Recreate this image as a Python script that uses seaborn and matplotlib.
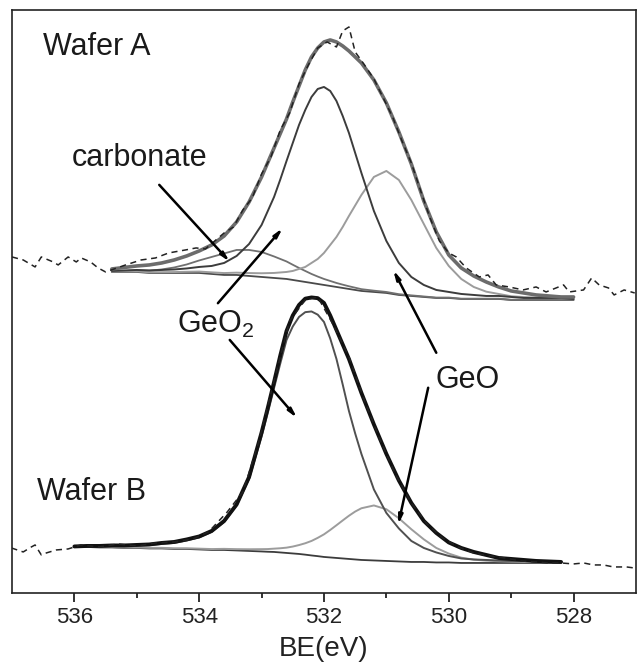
import numpy as np
import seaborn as sns
import matplotlib.pyplot as plt

# binding energy grids of the two fits (eV), finer across the peak tops
BE_A = [535.4, 535.2, 535.0, 534.8, 534.6, 534.4, 534.2, 534.0, 533.8, 533.6, 533.4, 533.2, 533.0,
        532.8, 532.7, 532.6, 532.5, 532.4, 532.3, 532.2, 532.1, 532.0, 531.9, 531.8, 531.7, 531.6,
        531.4, 531.2, 531.0, 530.8, 530.6, 530.4, 530.2, 530.0, 529.8, 529.6, 529.4, 529.2, 529.0,
        528.8, 528.6, 528.4, 528.2, 528.0]
BE_B = [536.0, 535.8, 535.6, 535.4, 535.2, 535.0, 534.8, 534.6, 534.4, 534.2, 534.0, 533.8, 533.6,
        533.4, 533.2, 533.0, 532.9, 532.8, 532.7, 532.6, 532.5, 532.4, 532.3, 532.2, 532.1, 532.0,
        531.9, 531.8, 531.7, 531.6, 531.5, 531.4, 531.2, 531.0, 530.8, 530.6, 530.4, 530.2, 530.0,
        529.8, 529.6, 529.4, 529.2, 529.0, 528.8, 528.6, 528.4, 528.2]

# Wafer A: shirley background and peak heights above it (arb. units)
BASE_A = [321, 321, 321, 320, 320, 320, 320, 320, 319, 318, 318, 317, 316,
          315, 314.5, 314, 313, 312, 311, 310, 309, 308, 307, 306, 305, 304,
          302, 301, 300, 298, 297, 296, 295, 295, 294, 294, 294, 294, 293, 293, 293, 293, 293, 293]
GEO2_A = [1, 1.5, 2, 2.5, 3, 3.5, 4.5, 6, 8, 12, 19, 32, 52,
          81, 99, 118, 137, 156, 172, 186, 195, 198, 195, 186, 172, 156,
          118, 81, 52, 32, 19, 12, 8, 6, 5, 4, 3, 3, 3, 2, 2, 2, 2, 1]
GEO_A = [0.5, 0.5, 0.6, 0.7, 0.8, 0.9, 1.2, 1.4, 1.6, 1.9, 2.3, 2.9, 3.7,
         5, 6, 7, 9, 12, 15, 20, 25, 32, 41, 50, 61, 73,
         96, 115, 122, 115, 96, 73, 50, 32, 20, 12, 7.3, 5, 3.7, 2.9, 2.4, 2.1, 1.8, 1.6]
CARB_A = [0.6, 0.9, 1.6, 2.3, 3.5, 5.5, 8.5, 12.5, 17, 21.5, 25, 26, 25,
          21.5, 19.5, 17.5, 15.2, 13, 11, 9, 7.4, 6, 5, 4, 3.3, 2.7,
          1.8, 1.3, 1, 0.8, 0.6, 0.5, 0.4, 0.4, 0.3, 0.3, 0.3, 0.3, 0.2, 0.2, 0.2, 0.2, 0.2, 0.2]
ENV_A = [3, 4.5, 6, 8, 10, 13, 17, 22, 29, 39, 53, 74, 100,
         130, 145, 160, 178, 195, 212, 226, 236, 243, 246, 245, 242, 238,
         228, 212, 190, 163, 132, 96, 66, 43, 31, 23, 17, 12, 9, 7, 5, 4, 3, 3]

# Wafer A measured spectrum
RAW_A_BE = [537.0, 536.82, 536.63, 536.53, 536.34, 536.26, 536.1, 535.97, 535.89, 535.74, 535.62, 535.5,
            535.18, 534.93, 534.7, 534.49, 534.22, 534.05, 533.9, 533.75, 533.6, 533.45, 533.3, 533.15,
            533.0, 532.85, 532.7, 532.55, 532.4, 532.25, 532.1, 531.95, 531.8, 531.7, 531.6, 531.5,
            531.35, 531.2, 531.05, 530.9, 530.75, 530.6, 530.45, 530.3, 530.15, 530.0, 529.88, 529.72,
            529.51, 529.37, 529.24, 529.03, 528.81, 528.6, 528.44, 528.16, 528.07, 527.84, 527.71,
            527.59, 527.44, 527.35, 527.19, 527.02]
RAW_A = [336, 333, 326, 336, 331, 328, 336, 331, 335, 331, 325, 321,
         328, 333, 335, 340, 343, 345, 344, 352, 360, 366, 383, 395,
         419, 436, 463, 480, 509, 528, 545, 551, 546, 562, 566, 541,
         528, 514, 495, 476, 452, 430, 402, 375, 352, 340, 336, 325,
         316, 318, 308, 306, 303, 306, 301, 308, 301, 303, 315,
         308, 305, 298, 303, 300]

# Wafer B
BASE_B = [46, 46, 45.5, 45.5, 45, 45, 44.5, 44.5, 44, 44, 43.5, 43, 43, 42.5, 42,
          41.5, 41.2, 41, 40.5, 40, 39.5, 39, 38.3, 37.5, 36.8, 36, 35.5, 35, 34.5, 34, 33.5, 33,
          32.5, 32, 31.5, 31, 31, 30.5, 30.5, 30, 30, 30, 30, 30, 30, 30, 30, 30]
GEO2_B = [0.3, 0.6, 1, 1.4, 1.9, 2.5, 3.3, 4.5, 6, 8.5, 12, 18, 28, 45, 72,
          115, 139, 164, 189, 213, 227, 237, 242.5, 244, 241.5, 235, 219, 199, 174, 148, 126, 106,
          71, 48, 33, 21, 14, 10, 6.5, 4.5, 3.5, 3, 2.5, 2, 2, 1.5, 1.5, 1]
GEO_B = [0.4, 0.4, 0.5, 0.5, 0.5, 0.5, 0.6, 0.6, 0.7, 0.7, 0.8, 0.9, 1.1, 1.3, 1.7,
         2.3, 2.7, 3.3, 4.2, 5.3, 6.9, 8.9, 11.4, 14.5, 18.3, 22.6, 27.5, 32.7, 38, 43.2, 47.9, 51.7,
         55, 51.7, 43.2, 32.7, 22.6, 14.5, 8.9, 5.3, 3.3, 2.3, 1.7, 1.3, 1.1, 0.9, 0.8, 0.7]
ENV_B = [0.5, 1, 1.5, 2, 2.5, 3, 4, 5.5, 7, 9.5, 13, 19, 29, 46, 74,
         119, 144, 170, 197, 222, 238, 249, 256, 258, 258, 254, 242, 228, 214, 200, 183.5, 167,
         136, 107, 81, 59, 41, 29.5, 20, 15, 11, 8, 5, 4, 3, 2, 1.5, 1]

RAW_B_BE = [537.01, 536.82, 536.69, 536.63, 536.53, 536.45, 536.29, 536.1, 535.9, 535.6, 535.3, 535.0,
            534.7, 534.4, 534.1, 533.85, 533.55, 533.3, 533.05, 532.8, 532.55, 532.3, 532.1, 531.85,
            531.6, 531.35, 531.1, 530.85, 530.6, 530.35, 530.1, 529.85, 529.6, 529.35, 529.1, 528.85,
            528.6, 528.4, 528.2, 528.0, 527.84, 527.68, 527.52, 527.36, 527.15, 527.03]
RAW_B = [45, 41, 46, 48, 38, 40, 43, 44, 48, 46, 49, 47,
         50, 51, 54, 61, 81, 101, 150, 212, 272, 293, 296, 268,
         236, 192, 153, 118, 90, 69, 55, 46, 40, 37, 35, 32,
         31, 30, 30, 29, 30, 28, 28, 26, 26, 25]

# annotation arrows, (tail, tip) in axes fraction
ARROWS = [((0.236, 0.700), (0.349, 0.568)),   # carbonate
          ((0.330, 0.497), (0.434, 0.626)),   # GeO2 -> wafer A
          ((0.349, 0.434), (0.457, 0.300)),   # GeO2 -> wafer B
          ((0.680, 0.412), (0.611, 0.554)),   # GeO -> wafer A
          ((0.667, 0.352), (0.619, 0.117))]   # GeO -> wafer B

sns.set_style('ticks')
plt.rcParams['font.family'] = ['Liberation Sans', 'DejaVu Sans']
plt.rcParams['mathtext.fontset'] = 'custom'
plt.rcParams['mathtext.rm'] = 'Liberation Sans'

fig = plt.figure(figsize=(6.38, 6.64), dpi=100)
ax = fig.add_axes([0.0188, 0.107, 0.978, 0.878])


def line(x, y, color, lw, **kw):
    sns.lineplot(x=x, y=y, ax=ax, color=color, lw=lw, estimator=None, sort=False, **kw)


base_a = np.array(BASE_A, dtype=float)
line(BE_A, base_a, '#4a4a4a', 1.3)
line(BE_A, base_a + CARB_A, '#707070', 1.3)
line(BE_A, base_a + GEO_A, '#9c9c9c', 1.4)
line(BE_A, base_a + GEO2_A, '#3c3c3c', 1.4)
line(BE_A, base_a + ENV_A, '#6c6c6c', 2.6)
line(RAW_A_BE, RAW_A, '#222222', 1.1, linestyle=(0, (4, 3)))

base_b = np.array(BASE_B, dtype=float)
line(BE_B, base_b, '#3c3c3c', 1.3)
line(BE_B, base_b + GEO_B, '#9c9c9c', 1.4)
line(BE_B, base_b + GEO2_B, '#505050', 1.4)
line(BE_B, base_b + ENV_B, '#111111', 2.8)
line(RAW_B_BE, RAW_B, '#222222', 1.1, linestyle=(0, (4, 3)))

ax.set_xlim(537, 527)
ax.set_ylim(0, 583)
ax.set_xticks([536, 534, 532, 530, 528])
ax.set_xticks([535, 533, 531, 529], minor=True)
ax.set_yticks([])
ax.tick_params(axis='x', which='major', direction='out', length=6.5, width=1.3,
               labelsize=16, pad=3.5, colors='#222222')
ax.tick_params(axis='x', which='minor', direction='out', length=3.5, width=1.3, colors='#222222')
for s in ax.spines.values():
    s.set_visible(True)
    s.set_linewidth(1.2)
    s.set_color('#222222')
ax.set_xlabel('BE(eV)', fontsize=20, labelpad=6, color='#222222')
ax.set_ylabel('')

txt = dict(transform=ax.transAxes, fontsize=22, ha='left', va='baseline', color='#1a1a1a')
ax.text(0.050, 0.923, 'Wafer A', **txt)
ax.text(0.096, 0.732, 'carbonate', **txt)
ax.text(0.264, 0.446, r'GeO$_{\mathregular{2}}$', **txt)
ax.text(0.678, 0.352, 'GeO', **txt)
ax.text(0.040, 0.160, 'Wafer B', **txt)

for tail, tip in ARROWS:
    ax.annotate('', xy=tip, xytext=tail, xycoords='axes fraction', textcoords='axes fraction',
                arrowprops=dict(arrowstyle='-|>,head_length=0.5,head_width=0.12', color='black',
                                lw=1.8, shrinkA=0, shrinkB=0))

fig.savefig('out.png', dpi=100)
